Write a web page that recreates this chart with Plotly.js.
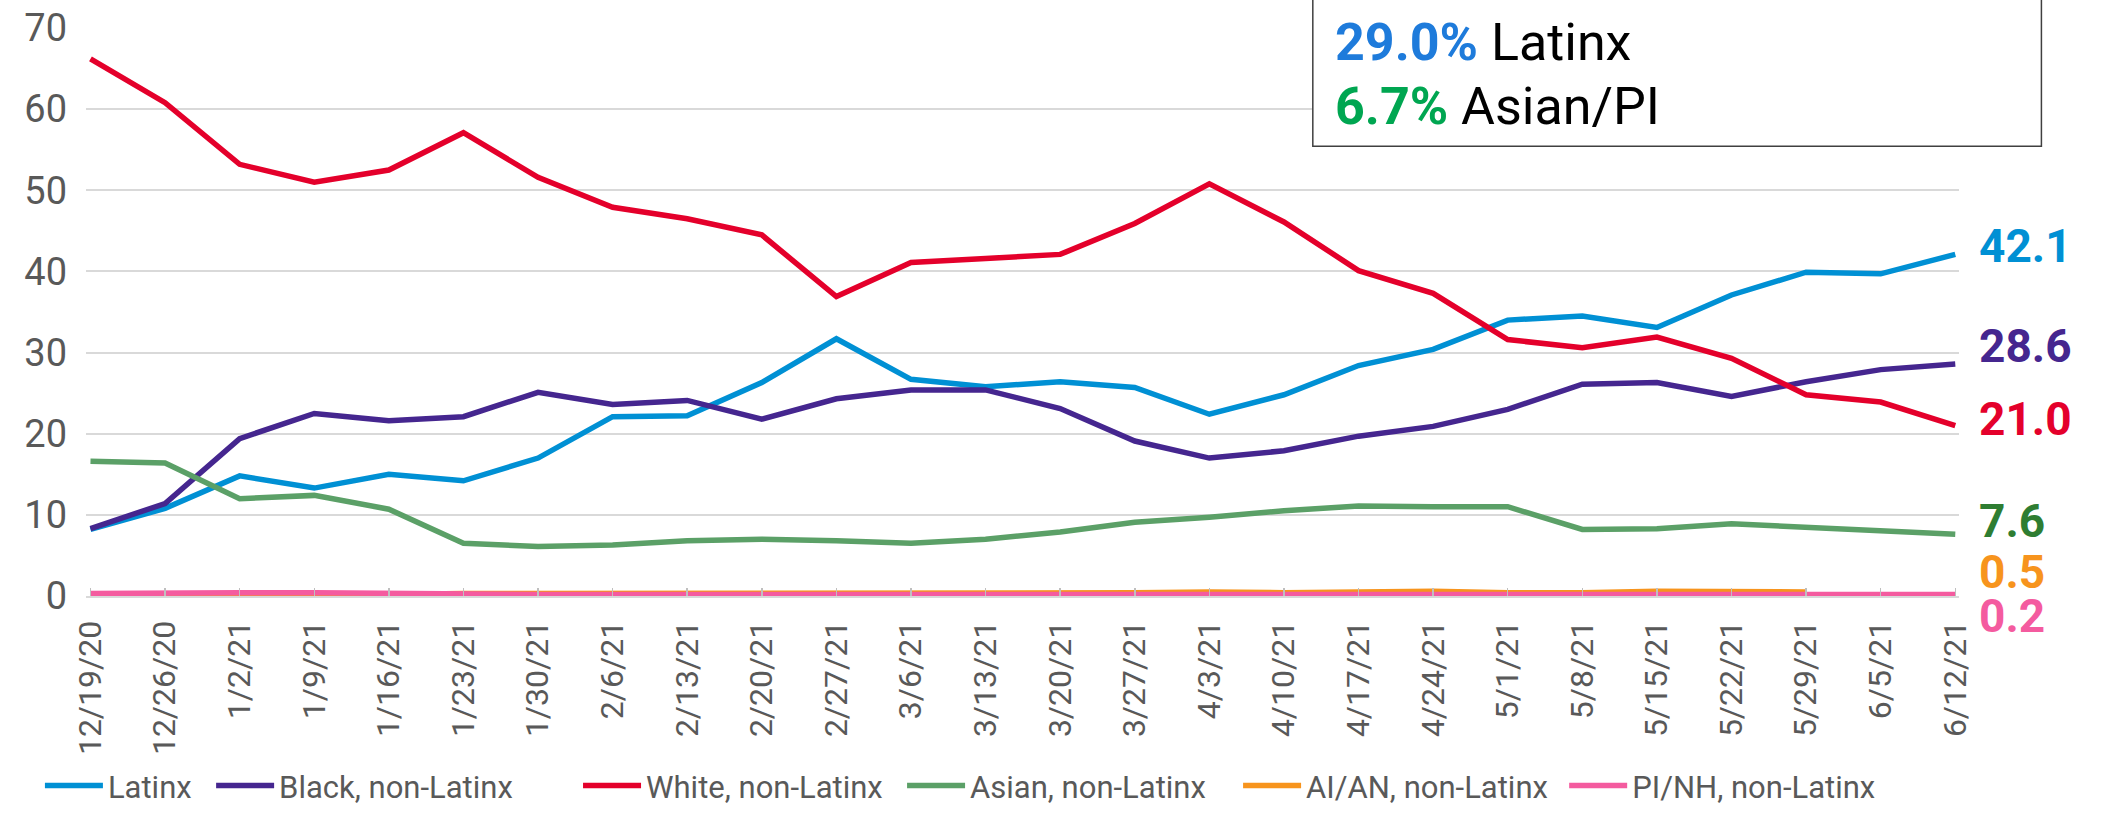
<!DOCTYPE html>
<html>
<head>
<meta charset="utf-8">
<script src="https://cdn.plot.ly/plotly-3.0.1.min.js"></script>
<style>
  html, body { margin: 0; padding: 0; background: #ffffff; }
  #chart { width: 2105px; height: 813px; }
</style>
</head>
<body>
<div id="chart"></div>
<script>
const categories = ['12/19/20','12/26/20','1/2/21','1/9/21','1/16/21','1/23/21','1/30/21','2/6/21','2/13/21','2/20/21','2/27/21','3/6/21','3/13/21','3/20/21','3/27/21','4/3/21','4/10/21','4/17/21','4/24/21','5/1/21','5/8/21','5/15/21','5/22/21','5/29/21','6/5/21','6/12/21'];

const latinx = [8.2,10.8,14.8,13.3,15.0,14.2,17.0,22.1,22.2,26.3,31.7,26.7,25.8,26.4,25.7,22.4,24.8,28.4,30.4,34.0,34.5,33.1,37.1,39.9,39.7,42.1];
const black  = [8.3,11.4,19.4,22.5,21.6,22.1,25.1,23.6,24.1,21.8,24.3,25.4,25.4,23.1,19.1,17.0,17.9,19.7,20.9,23.0,26.1,26.3,24.6,26.4,27.9,28.6];
const white  = [66.2,60.8,53.2,51.0,52.5,57.1,51.6,47.9,46.5,44.5,36.9,41.1,41.6,42.1,45.9,50.8,46.1,40.1,37.3,31.6,30.6,31.9,29.3,24.8,23.9,21.0];
const asian  = [16.6,16.4,12.0,12.4,10.7,6.5,6.1,6.3,6.8,7.0,6.8,6.5,7.0,7.9,9.1,9.7,10.5,11.1,11.0,11.0,8.2,8.3,8.9,8.5,8.0,7.6];
const aian   = [0.2,0.2,0.1,0.1,0.2,0.3,0.3,0.3,0.3,0.4,0.4,0.4,0.3,0.4,0.4,0.5,0.4,0.5,0.6,0.4,0.4,0.6,0.6,0.5,null,null];
const pinh   = [0.3,0.4,0.4,0.4,0.3,0.2,0.2,0.2,0.2,0.2,0.2,0.2,0.2,0.2,0.2,0.2,0.2,0.2,0.2,0.2,0.2,0.2,0.2,0.2,0.2,0.2];

const seriesNames = ['Latinx','Black, non-Latinx','White, non-Latinx','Asian, non-Latinx','AI/AN, non-Latinx','PI/NH, non-Latinx'];
const seriesData = [latinx, black, white, asian, aian, pinh];
const lineColors = ['#0090D4','#45268F','#E4002B','#5BA067','#F7941D','#F45B9F'];
const labelColors = ['#0090D4','#45268F','#E4002B','#2E7D32','#F7941D','#F45B9F'];
const labelYShift = [8, 18, 7, 13, 20, -22];

const boxValues = ['29.0%','6.7%'];
const boxNames = ['Latinx','Asian/PI'];
const boxColors = ['#1E7BDB','#00A651'];

// legend entry left positions (paper fraction of plot width)
const legendX = [-0.0246, 0.0668, 0.2627, 0.4357, 0.6151, 0.7892];

const legendIds = ['legend','legend2','legend3','legend4','legend5','legend6'];

const traces = seriesNames.map((n, k) => ({
  type: 'scatter',
  mode: 'lines',
  name: n,
  x: categories,
  y: seriesData[k],
  line: { color: lineColors[k], width: 5.5 },
  connectgaps: false,
  legend: legendIds[k],
  hoverinfo: 'x+y+name'
}));

function lastIndex(arr) {
  for (let i = arr.length - 1; i >= 0; i--) if (arr[i] !== null) return i;
  return -1;
}

const annotations = seriesData.map((arr, k) => {
  const li = lastIndex(arr);
  return {
    x: categories[categories.length - 1],
    y: arr[li],
    xref: 'x', yref: 'y',
    text: arr[li].toFixed(1),
    showarrow: false,
    xanchor: 'left', yanchor: 'middle',
    xshift: 22, yshift: labelYShift[k],
    font: { family: 'Roboto', size: 46, color: labelColors[k], weight: 'bold' }
  };
});

const boxY = [0.975, 0.862];
boxValues.forEach((v, i) => {
  annotations.push({
    xref: 'paper', yref: 'paper',
    x: 0.666, y: boxY[i],
    xanchor: 'left', yanchor: 'middle',
    showarrow: false,
    text: '<b><span style="color:' + boxColors[i] + '">' + v + '</span></b> ' + boxNames[i],
    font: { family: 'Roboto', size: 52, color: '#000000' }
  });
});

const layout = {
  width: 2105, height: 813,
  margin: { l: 86, r: 146, t: 28, b: 217, autoexpand: false },
  paper_bgcolor: '#ffffff',
  plot_bgcolor: '#ffffff',
  showlegend: true,
  xaxis: {
    type: 'category',
    range: [-0.06, 25.05],
    tickangle: -90,
    tickfont: { family: 'Roboto', size: 32, color: '#595959' },
    ticks: 'inside', ticklen: 8, tickwidth: 1.5, tickcolor: '#BFBFBF',
    showline: true, linecolor: '#D9D9D9', linewidth: 2,
    showgrid: false, zeroline: false,
    ticklabelstandoff: 10,
    automargin: false,
    fixedrange: true
  },
  yaxis: {
    range: [0, 70],
    dtick: 10,
    tick0: 0,
    tickfont: { family: 'Roboto', size: 38, color: '#595959' },
    showgrid: true, gridcolor: '#D9D9D9', gridwidth: 2,
    zeroline: false, showline: false,
    ticks: '',
    ticklabelstandoff: 18,
    automargin: false,
    fixedrange: true
  },
  shapes: [{
    type: 'rect', xref: 'paper', yref: 'paper',
    x0: 0.655, x1: 1.044, y0: 0.792, y1: 1.2,
    line: { color: '#404040', width: 1.5 },
    fillcolor: 'rgba(255,255,255,1)',
    layer: 'above'
  }],
  annotations: annotations
};

legendIds.forEach((id, k) => {
  layout[id] = {
    orientation: 'h',
    x: legendX[k], xanchor: 'left',
    y: -0.3818, yanchor: 'bottom',
    font: { family: 'Roboto', size: 31, color: '#595959' },
    itemwidth: 58,
    bgcolor: 'rgba(0,0,0,0)'
  };
});

Plotly.newPlot('chart', traces, layout, { displayModeBar: false, staticPlot: true });
</script>
</body>
</html>
